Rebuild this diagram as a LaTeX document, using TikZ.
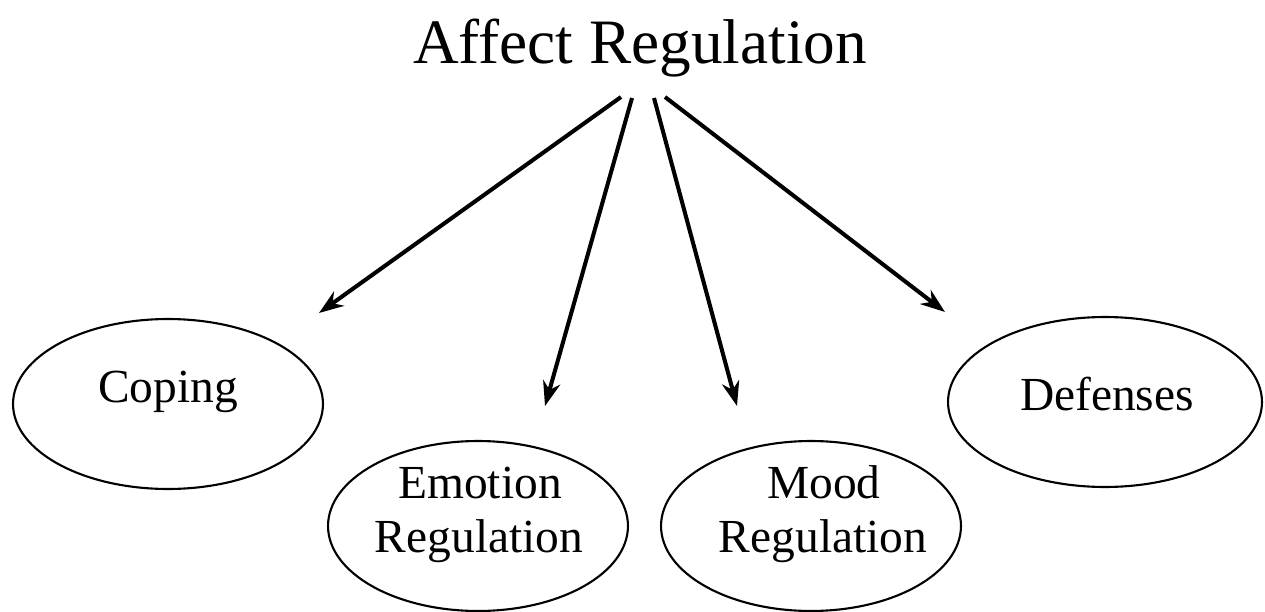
\documentclass[tikz,border=0pt]{standalone}
\usepackage{fontspec}
\setmainfont{Liberation Serif}
\usetikzlibrary{arrows.meta,shapes.geometric}
\begin{document}
\begin{tikzpicture}[x=0.02cm,y=-0.02cm,
  oval/.style={draw,ellipse,line width=1.2pt,inner sep=0pt,minimum height=3.4cm},
  lbl/.style={anchor=base,inner sep=0pt,font=\fontsize{27}{31}\selectfont},
  arr/.style={line width=2.3pt,-{Stealth[length=14pt,width=10pt,inset=4.5pt]}}]
\useasboundingbox (0,0) rectangle (1265,612);
\node[font=\fontsize{36}{40}\selectfont] (title) at (640,48) {Affect Regulation};
% ellipses
\node[oval,minimum width=6.2cm] (coping) at (168,404) {};
\node[oval,minimum width=6.0cm] (emotion) at (478,526) {};
\node[oval,minimum width=6.0cm] (mood) at (811,526) {};
\node[oval,minimum width=6.28cm] (defenses) at (1105,402) {};
% labels
\node[lbl] (copingT) at (168,402) {Coping};
\node[lbl] (emotionT1) at (480,498) {Emotion};
\node[lbl] (emotionT2) at (479,552) {Regulation};
\node[lbl] (moodT1) at (824,498) {Mood};
\node[lbl] (moodT2) at (823,552) {Regulation};
\node[lbl] (defensesT) at (1107,410) {Defenses};
% arrow ends
\coordinate (s1) at (621,97);
\coordinate (s2) at (632,98);
\coordinate (s3) at (654,98);
\coordinate (s4) at (665,97);
\coordinate (t1) at (319,313);
\coordinate (t2) at (545,406);
\coordinate (t3) at (737,406);
\coordinate (t4) at (945,312);
\draw[arr] (s1) -- (t1);
\draw[arr] (s2) -- (t2);
\draw[arr] (s3) -- (t3);
\draw[arr] (s4) -- (t4);
\end{tikzpicture}
\end{document}
